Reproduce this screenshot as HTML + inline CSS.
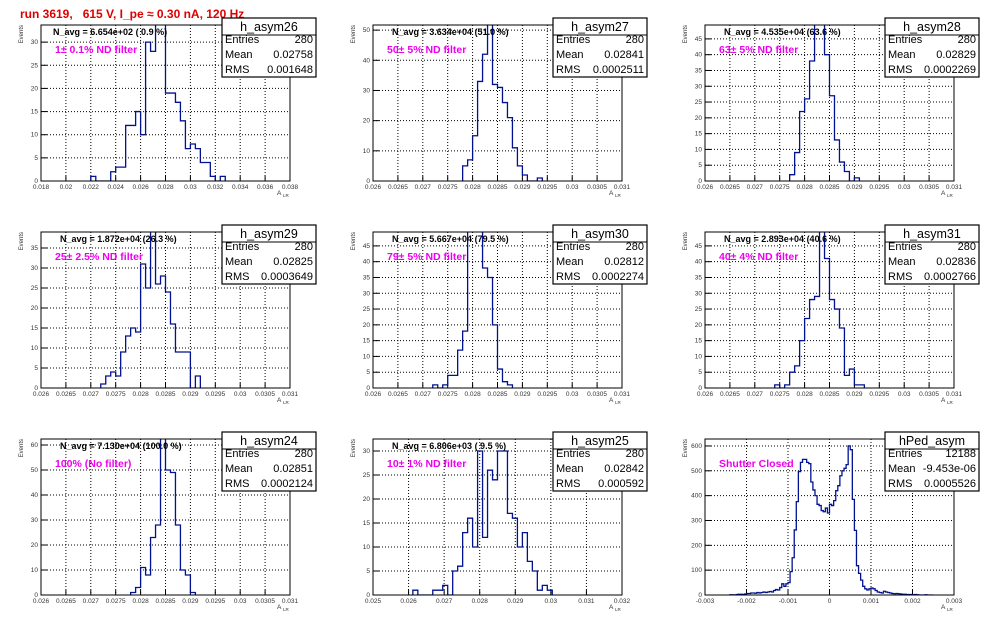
<!DOCTYPE html>
<html><head><meta charset="utf-8"><style>
html,body{margin:0;padding:0;background:#fff;}
svg{display:block;font-family:"Liberation Sans",Arial,sans-serif;}
</style></head><body>
<svg id="c" width="996" height="622" viewBox="0 0 996 622" xmlns="http://www.w3.org/2000/svg">
<rect width="996" height="622" fill="#fff"/>
<text x="20" y="18" font-size="12" font-weight="bold" fill="#e00000" style="white-space:pre">run 3619,   615 V, I_pe ≈ 0.30 nA, 120 Hz</text>
</svg>
<script>
// ---- data ----
const h26Counts=[1,0,0,0,2,3,3,12,12,15,10,30,28,35,36,19,19,17,13,7,8,7,4,4,1,0,1];
const h27Counts=[5,7,15,33,42,55,32,31,26,21,11,5,2,0,0,1];
const h28Counts=[2,9,22,26,38,55,52,40,27,13,6,3,0,1];
const h29Counts=[1,3,4,3,9,13,15,14,31,25,40,26,28,24,16,9,9,9,0,3];
const h30Counts=[1,0,1,4,4,12,18,55,52,50,38,35,20,6,2,1];
const h31Counts=[1,0,1,5,7,15,22,28,29,55,41,28,25,19,4,6,1,1];
const h24Counts=[1,3,11,8,23,28,64,50,49,28,10,8,1];
const h25Counts=[1,0,0,0,1,1,2,0,5,6,13,16,10,30,12,26,24,30,30,17,16,10,13,7,5,1,2,1];
const hPedCounts=[1,1,0,2,3,3,2,4,6,6,8,8,7,10,8,10,12,10,12,14,12,18,22,20,30,45,35,45,50,94,150,262,376,497,534,546,546,534,529,455,423,400,365,360,340,335,350,330,365,360,380,420,440,480,500,510,525,600,585,385,260,118,87,60,35,25,20,25,28,25,18,12,10,8,15,12,10,8,6,5,6,5,4,3,3,2,2,2,1,2,1,0,0,0,1,0,0,0];
const histNames=['h_asym26','h_asym27','h_asym28','h_asym29','h_asym30','h_asym31','h_asym24','h_asym25','hPed_asym'];
const histCounts=[h26Counts,h27Counts,h28Counts,h29Counts,h30Counts,h31Counts,h24Counts,h25Counts,hPedCounts];
const binStarts=[0.022,0.0278,0.0277,0.0272,0.0272,0.0274,0.0278,0.02612,-0.0024];
const binWidths=[0.0004,0.0001,0.0001,0.0001,0.0001,0.0001,0.0001,0.00014,0.00005];
const xMins=[0.018,0.026,0.026,0.026,0.026,0.026,0.026,0.025,-0.003];
const xMaxs=[0.038,0.031,0.031,0.031,0.031,0.031,0.031,0.032,0.003];
const xSteps=[0.002,0.0005,0.0005,0.0005,0.0005,0.0005,0.0005,0.001,0.001];
const yMaxs=[33.7,51.7,49.4,39,49.4,49.4,62.4,32.5,628];
const ySteps=[5,10,5,5,5,5,10,5,100];
const entriesVals=['280','280','280','280','280','280','280','280','12188'];
const meanVals=['0.02758','0.02841','0.02829','0.02825','0.02812','0.02836','0.02851','0.02842','-9.453e-06'];
const rmsVals=['0.001648','0.0002511','0.0002269','0.0003649','0.0002274','0.0002766','0.0002124','0.000592','0.0005526'];
const navgTexts=['N_avg = 6.654e+02 ( 0.9 %)','N_avg = 3.634e+04 (51.0 %)','N_avg = 4.535e+04 (63.6 %)','N_avg = 1.872e+04 (26.3 %)','N_avg = 5.667e+04 (79.5 %)','N_avg = 2.893e+04 (40.6 %)','N_avg = 7.130e+04 (100.0 %)','N_avg = 6.806e+03 ( 9.5 %)',''];
const filterTexts=['1± 0.1% ND filter','50± 5% ND filter','63± 5% ND filter','25± 2.5% ND filter','79± 5% ND filter','40± 4% ND filter','100% (No filter)','10± 1% ND filter','Shutter Closed'];

// ---- layout ----
const NS='http://www.w3.org/2000/svg';
const svg=document.getElementById('c');
const colX=[41,373,705], rowY=[25,232,439], FW=249, FH=156;
const boxX=[222,553,885], boxY=[18,225,432];
function mk(tag,attrs,parent){const e=document.createElementNS(NS,tag);for(const k in attrs)e.setAttribute(k,attrs[k]);(parent||svg).appendChild(e);return e;}
function fmt(v){let s=parseFloat(v.toFixed(6)).toString();if(Math.abs(v)<1e-12)s='0';return s;}

for(let p=0;p<9;p++){
  const col=p%3,row=Math.floor(p/3);
  const fx=colX[col],fy=rowY[row];
  const g=mk('g',{});
  
  
  const xs=v=>fx+(v-xMins[p])/(xMaxs[p]-xMins[p])*FW;
  const ys=v=>fy+FH-v/yMaxs[p]*FH;
  const nx=Math.round((xMaxs[p]-xMins[p])/xSteps[p]);
  for(let i=0;i<=nx;i++){
    const v=xMins[p]+i*xSteps[p],x=xs(v);
    if(i>0&&i<nx){const l=mk('line',{x1:x,y1:fy,x2:x,y2:fy+FH,stroke:'#000','stroke-width':1,'stroke-dasharray':'1,2'},g);}
    mk('line',{x1:x,y1:fy+FH,x2:x,y2:fy+FH-5,stroke:'#000','stroke-width':1},g);
    const t=mk('text',{x:x,y:fy+FH+8,'font-size':6.5,'text-anchor':'middle',fill:'#333'},g);
    t.textContent=fmt(v);
    
    
  }
  for(let v=0;v<=yMaxs[p]+1e-9;v+=ySteps[p]){
    const y=ys(v);
    if(v>0){const l=mk('line',{x1:fx,y1:y,x2:fx+FW,y2:y,stroke:'#000','stroke-width':1,'stroke-dasharray':'1,2'},g);}
    mk('line',{x1:fx,y1:y,x2:fx+6,y2:y,stroke:'#000','stroke-width':1},g);
    const t=mk('text',{x:fx-3,y:y+2,'font-size':6.5,'text-anchor':'end',fill:'#333'},g);
    t.textContent=String(v);
    
    
  }
  const cp=mk('clipPath',{id:'cp'+p},g);
  mk('rect',{x:fx,y:fy,width:FW,height:FH},cp);
  const c=histCounts[p];
  let d='M'+xs(binStarts[p]).toFixed(2)+','+ys(0).toFixed(2);
  for(let i=0;i<c.length;i++){
    const x0=xs(binStarts[p]+i*binWidths[p]),x1=xs(binStarts[p]+(i+1)*binWidths[p]),y=ys(c[i]);
    d+=' L'+x0.toFixed(2)+','+y.toFixed(2)+' L'+x1.toFixed(2)+','+y.toFixed(2);
  }
  d+=' L'+xs(binStarts[p]+c.length*binWidths[p]).toFixed(2)+','+ys(0).toFixed(2);
  const h=mk('path',{d:d,fill:'none',stroke:'#00128f','stroke-width':1.3,'clip-path':'url(#cp'+p+')'},g);
  
  
  const fr=mk('rect',{x:fx,y:fy,width:FW,height:FH,fill:'none',stroke:'#000','stroke-width':1},g);
  
  
  const yt=mk('text',{x:0,y:0,'font-size':6,'text-anchor':'end',transform:'translate('+(fx-18)+','+(fy)+') rotate(-90)',fill:'#333'},g);
  yt.textContent='Events';
  
  
  const xt=mk('text',{x:fx+FW-13,y:fy+FH+14,'font-size':6.5,fill:'#333'},g);
  xt.textContent='A';
  
  
  const xts=mk('text',{x:fx+FW-7,y:fy+FH+16,'font-size':4.5,fill:'#333'},g);
  xts.textContent='LR';
  
  
  if(navgTexts[p]){
    const n=mk('text',{x:fx+(p===0?12:19),y:fy+10,'font-size':9,'font-weight':'bold',fill:'#000'},g);
    n.textContent=navgTexts[p];
    
    
  }
  const m=mk('text',{x:fx+14,y:fy+28,'font-size':10.5,'font-weight':'bold',fill:'#ee00ee'},g);
  m.textContent=filterTexts[p];
  
  
  const bx=boxX[col],by=boxY[row],bw=94,bh=59;
  const sb=mk('g',{},g);
  
  
  mk('rect',{x:bx,y:by,width:bw,height:bh,fill:'#fff',stroke:'#000','stroke-width':1.2},sb);
  mk('line',{x1:bx,y1:by+17,x2:bx+bw,y2:by+17,stroke:'#000','stroke-width':1},sb);
  const st=mk('text',{x:bx+bw/2,y:by+13,'font-size':12.5,'text-anchor':'middle',fill:'#000'},sb);
  st.textContent=histNames[p];
  
  
  const labs=['Entries','Mean','RMS'],vals=[entriesVals[p],meanVals[p],rmsVals[p]];
  for(let k=0;k<3;k++){
    const a=mk('text',{x:bx+3,y:by+25+k*15,'font-size':11,fill:'#000'},sb);
    a.textContent=labs[k];
    
    
    const b=mk('text',{x:bx+bw-3,y:by+25+k*15,'font-size':11,'text-anchor':'end',fill:'#000'},sb);
    b.textContent=vals[k];
    
    
  }
}
</script>
</body></html>
